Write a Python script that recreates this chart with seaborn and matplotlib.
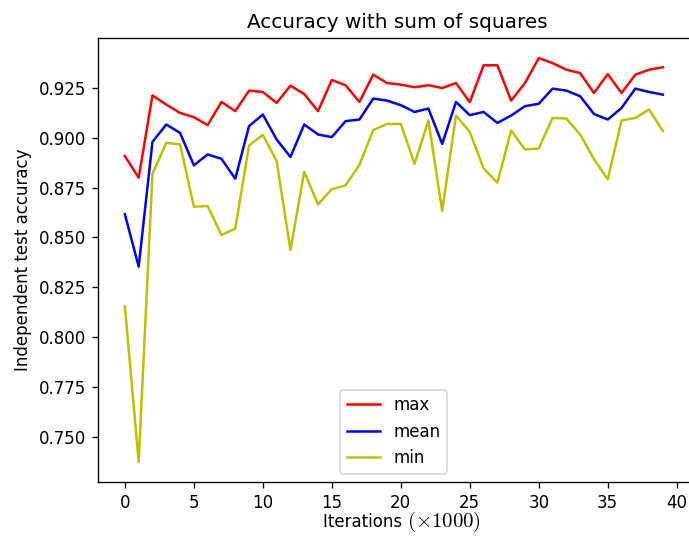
import matplotlib
matplotlib.use("Agg")
import matplotlib.pyplot as plt
from matplotlib.offsetbox import TextArea, HPacker, AnchoredOffsetbox
import numpy as np
import pandas as pd
import seaborn as sns

plt.rcParams["mathtext.fontset"] = "cm"

iterations = list(range(40))

acc_max = [0.8908, 0.8799, 0.9212, 0.9166, 0.9124, 0.9103, 0.9063, 0.9179, 0.9133, 0.9236,
           0.9229, 0.9174, 0.9261, 0.9219, 0.9133, 0.9289, 0.9263, 0.9179, 0.9316, 0.9274,
           0.9266, 0.9253, 0.9263, 0.9249, 0.9274, 0.9178, 0.9363, 0.9363, 0.9186, 0.9274,
           0.9399, 0.9374, 0.9341, 0.9324, 0.9224, 0.9319, 0.9224, 0.9316, 0.9341, 0.9353]

acc_mean = [0.8616, 0.8353, 0.8979, 0.9066, 0.9024, 0.8861, 0.8916, 0.8894, 0.8794, 0.9058,
            0.9116, 0.8991, 0.8903, 0.9066, 0.9016, 0.9003, 0.9083, 0.9091, 0.9196, 0.9186,
            0.9163, 0.9129, 0.9146, 0.8969, 0.9179, 0.9113, 0.9129, 0.9074, 0.9111, 0.9158,
            0.9170, 0.9246, 0.9236, 0.9208, 0.9119, 0.9091, 0.9149, 0.9246, 0.9229, 0.9216]

acc_min = [0.8153, 0.7374, 0.8819, 0.8974, 0.8966, 0.8654, 0.8657, 0.8512, 0.8544, 0.8961,
           0.9014, 0.8883, 0.8436, 0.8829, 0.8666, 0.8741, 0.8761, 0.8863, 0.9038, 0.9069,
           0.9069, 0.8869, 0.9086, 0.8633, 0.9111, 0.9029, 0.8846, 0.8774, 0.9036, 0.8941,
           0.8946, 0.9099, 0.9096, 0.9016, 0.8893, 0.8791, 0.9086, 0.9099, 0.9141, 0.9033]

series_names = ["max", "mean", "min"]
series_colors = {"max": "r", "mean": "b", "min": "y"}

df = pd.DataFrame({
    "iteration": iterations * 3,
    "accuracy": acc_max + acc_mean + acc_min,
    "series": [n for n in series_names for _ in iterations],
})

DPI = 120
fig = plt.figure(figsize=(689 / DPI, 538 / DPI), dpi=DPI)
ax = fig.add_axes([0.1422, 0.1041, 0.859, 0.8253])

sns.lineplot(data=df, x="iteration", y="accuracy", hue="series",
             hue_order=series_names, palette=series_colors, ax=ax,
             linewidth=1.5)

yticks = [0.750, 0.775, 0.800, 0.825, 0.850, 0.875, 0.900, 0.925]
ax.set_title("Accuracy with sum of squares", x=0.505)
ax.set_ylabel("Independent test accuracy")
ax.set_xlabel("")
ax.set_xticks(np.arange(0, 41, 5))
ax.set_yticks(yticks)
ax.set_yticklabels([f"{v:.3f}" for v in yticks])
ax.set_xlim(-1.95, 40.95)
ax.set_ylim(0.7273, 0.9500)
# the frame runs past the right edge of the canvas, so no right border shows
ax.spines["right"].set_visible(False)

# x label: plain word followed by a larger math-set multiplier
word = TextArea("Iterations ", textprops=dict(fontsize=10))
mult = TextArea(r"$(\times1000)$", textprops=dict(fontsize=12.5))
label_box = HPacker(children=[word, mult], align="baseline", pad=0, sep=0)
xlabel = AnchoredOffsetbox(loc="upper center", child=label_box,
                           bbox_to_anchor=(402 / 689, 1 - 510 / 538),
                           bbox_transform=fig.transFigure,
                           frameon=False, pad=0, borderpad=0)
fig.add_artist(xlabel)

handles, labels = ax.get_legend_handles_labels()
ax.legend(handles, labels, loc="lower center")

fig.savefig("out.png", dpi=DPI)
